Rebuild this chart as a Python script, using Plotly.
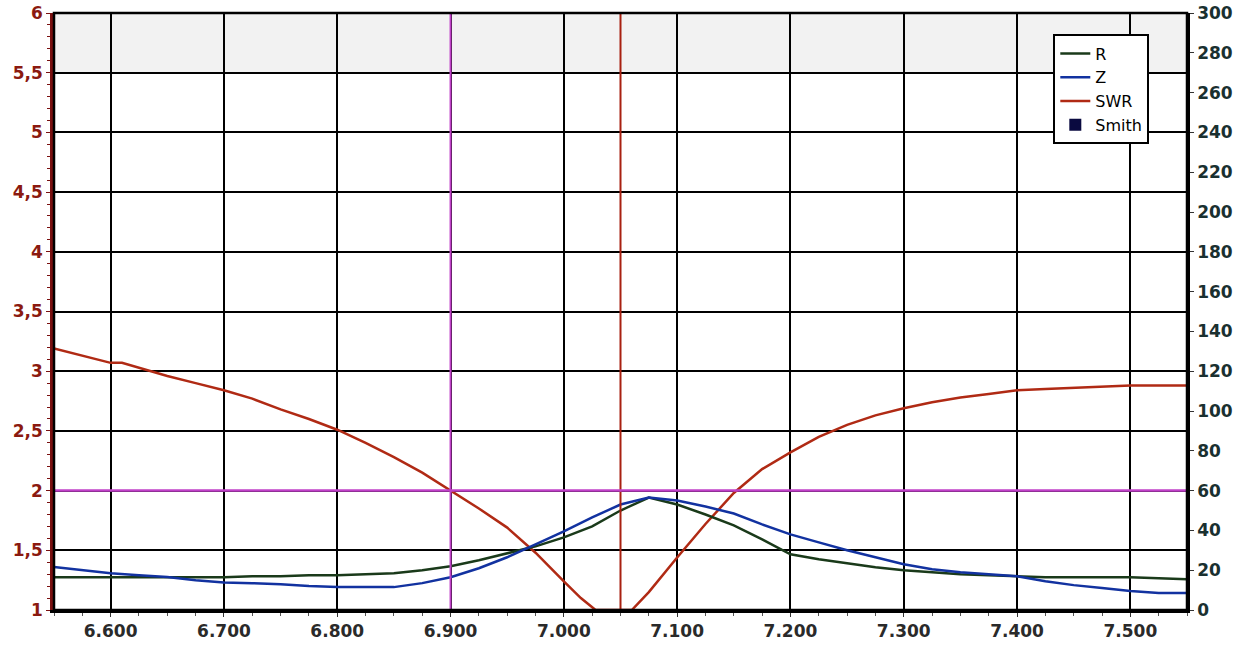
import plotly.graph_objects as go

# ---------------- data ----------------
rz_freq = [6.55, 6.575, 6.6, 6.625, 6.65, 6.675, 6.7, 6.725, 6.75, 6.775, 6.8, 6.825, 6.85,
           6.875, 6.9, 6.925, 6.95, 6.975, 7.0, 7.025, 7.05, 7.075, 7.1, 7.125, 7.15, 7.175,
           7.2, 7.225, 7.25, 7.275, 7.3, 7.325, 7.35, 7.375, 7.4, 7.425, 7.45, 7.475, 7.5,
           7.525, 7.55]
r_vals = [16.5, 16.5, 16.5, 16.5, 16.5, 16.5, 16.5, 17, 17, 17.5, 17.5, 18, 18.5, 20, 22, 25,
          28.5, 32, 36.5, 42, 50, 56.5, 53, 48, 42.5, 35.5, 28, 25.5, 23.5, 21.5, 20, 19, 18,
          17.5, 17, 16.5, 16.5, 16.5, 16.5, 16, 15.5]
z_vals = [21.6, 20, 18.5, 17.5, 16.6, 15, 13.8, 13.5, 13, 12, 11.5, 11.5, 11.5, 13.5, 16.5, 21,
          26.5, 33, 39.5, 46.5, 53, 56.5, 55, 52, 48.5, 43, 38, 34, 30, 26.5, 23, 20.5, 19, 18,
          17, 14.5, 12.5, 11, 9.5, 8.5, 8.5]

swr_freq = [6.55, 6.575, 6.6, 6.61, 6.625, 6.65, 6.675, 6.7, 6.725, 6.75, 6.775, 6.8, 6.825,
            6.85, 6.875, 6.9, 6.925, 6.95, 6.975, 7.0, 7.015, 7.028, 7.06, 7.075, 7.1, 7.125,
            7.15, 7.175, 7.2, 7.225, 7.25, 7.275, 7.3, 7.325, 7.35, 7.375, 7.4, 7.425, 7.45,
            7.475, 7.5, 7.525, 7.55]
swr_vals = [3.19, 3.13, 3.07, 3.07, 3.03, 2.96, 2.90, 2.84, 2.77, 2.68, 2.60, 2.51, 2.40,
            2.28, 2.15, 2.00, 1.85, 1.69, 1.48, 1.24, 1.10, 1.0, 1.0, 1.15, 1.44, 1.72,
            1.98, 2.18, 2.32, 2.45, 2.55, 2.63, 2.69, 2.74, 2.78, 2.81, 2.84, 2.85, 2.86,
            2.87, 2.88, 2.88, 2.88]

x_ticks = [6.6, 6.7, 6.8, 6.9, 7.0, 7.1, 7.2, 7.3, 7.4, 7.5]
x_labels = ["6.600", "6.700", "6.800", "6.900", "7.000", "7.100", "7.200", "7.300", "7.400", "7.500"]
swr_ticks = [1, 1.5, 2, 2.5, 3, 3.5, 4, 4.5, 5, 5.5, 6]
swr_labels = ["1", "1,5", "2", "2,5", "3", "3,5", "4", "4,5", "5", "5,5", "6"]
ohm_ticks = list(range(0, 301, 20))
ohm_labels = [str(v) for v in ohm_ticks]

marker_low = 6.9      # magenta marker frequency
marker_res = 7.05     # red marker frequency
swr_limit = 2.0       # horizontal SWR limit line
band_top = (5.5, 6.0) # grey band

# ---------------- figure ----------------
FONT = "DejaVu Sans, Verdana, sans-serif"
fig = go.Figure()

fig.add_trace(go.Scatter(x=rz_freq, y=r_vals, name="R", mode="lines", yaxis="y2",
                         line=dict(color="#1a3a1a", width=2.5)))
fig.add_trace(go.Scatter(x=rz_freq, y=z_vals, name="Z", mode="lines", yaxis="y2",
                         line=dict(color="#1232a0", width=2.5)))
fig.add_trace(go.Scatter(x=swr_freq, y=swr_vals, name="SWR", mode="lines", cliponaxis=False,
                         line=dict(color="#b02a14", width=2.5)))
fig.add_trace(go.Scatter(x=[None], y=[None], name="Smith", mode="markers",
                         marker=dict(symbol="square", color="#0a0a40", size=12)))

shapes = [
    dict(type="rect", xref="paper", yref="y", x0=0, x1=1, y0=band_top[0], y1=band_top[1],
         fillcolor="#f2f2f2", line=dict(width=0), layer="below"),
    dict(type="line", xref="x", yref="paper", x0=marker_low, x1=marker_low, y0=0, y1=1,
         line=dict(color="#c040c8", width=2)),
    dict(type="line", xref="x", yref="paper", x0=marker_res, x1=marker_res, y0=0, y1=1,
         line=dict(color="#a82010", width=2)),
    dict(type="line", xref="paper", yref="y", x0=0, x1=1, y0=swr_limit, y1=swr_limit,
         line=dict(color="#c040c8", width=2.5)),
    dict(type="rect", xref="paper", yref="paper", x0=0, x1=1, y0=0, y1=1,
         line=dict(color="black", width=2.5)),
]

fig.update_layout(
    width=1253, height=646,
    margin=dict(l=54, r=66, t=13, b=36, autoexpand=False),
    paper_bgcolor="white", plot_bgcolor="white",
    font=dict(family=FONT, color="black"),
    showlegend=True,
    legend=dict(x=0.882, y=0.964, xanchor="left", yanchor="top",
                bgcolor="white", bordercolor="black", borderwidth=2,
                font=dict(family=FONT, size=16, color="black"),
                itemwidth=30, tracegroupgap=0),
    shapes=shapes,
    xaxis=dict(range=[6.55, 7.55], tickvals=x_ticks, ticktext=x_labels, automargin=False,
               showgrid=True, gridcolor="black", gridwidth=2,
               showline=True, linecolor="black", linewidth=3,
               ticks="outside", ticklen=4, tickcolor="#333",
               tickfont=dict(family=FONT, size=17, color="#2a2a2a", weight="bold"),
               minor=dict(dtick=0.025, tick0=6.55, ticks="outside", ticklen=3,
                          tickcolor="#555", showgrid=False),
               zeroline=False),
    yaxis=dict(range=[1, 6], tickvals=swr_ticks, ticktext=swr_labels, automargin=False,
               showgrid=True, gridcolor="black", gridwidth=2,
               showline=True, linecolor="#7a1010", linewidth=3.5,
               ticks="outside", ticklen=4, tickcolor="#7a1010",
               tickfont=dict(family=FONT, size=17, color="#8b1a10", weight="bold"),
               minor=dict(dtick=0.1, tick0=1, ticks="outside", ticklen=3,
                          tickcolor="#7a1010", showgrid=False),
               ticklabeloverflow="allow", zeroline=False),
    yaxis2=dict(range=[0, 300], overlaying="y", side="right", automargin=False,
                tickvals=ohm_ticks, ticktext=ohm_labels, showgrid=False,
                showline=True, linecolor="black", linewidth=2.5,
                ticks="outside", ticklen=4, tickcolor="#333",
                tickfont=dict(family=FONT, size=17, color="#1a3030", weight="bold"),
                ticklabeloverflow="allow", zeroline=False),
)

fig.write_html("out.html", config={"displayModeBar": False},
               post_script="document.body.style.margin='0';")
